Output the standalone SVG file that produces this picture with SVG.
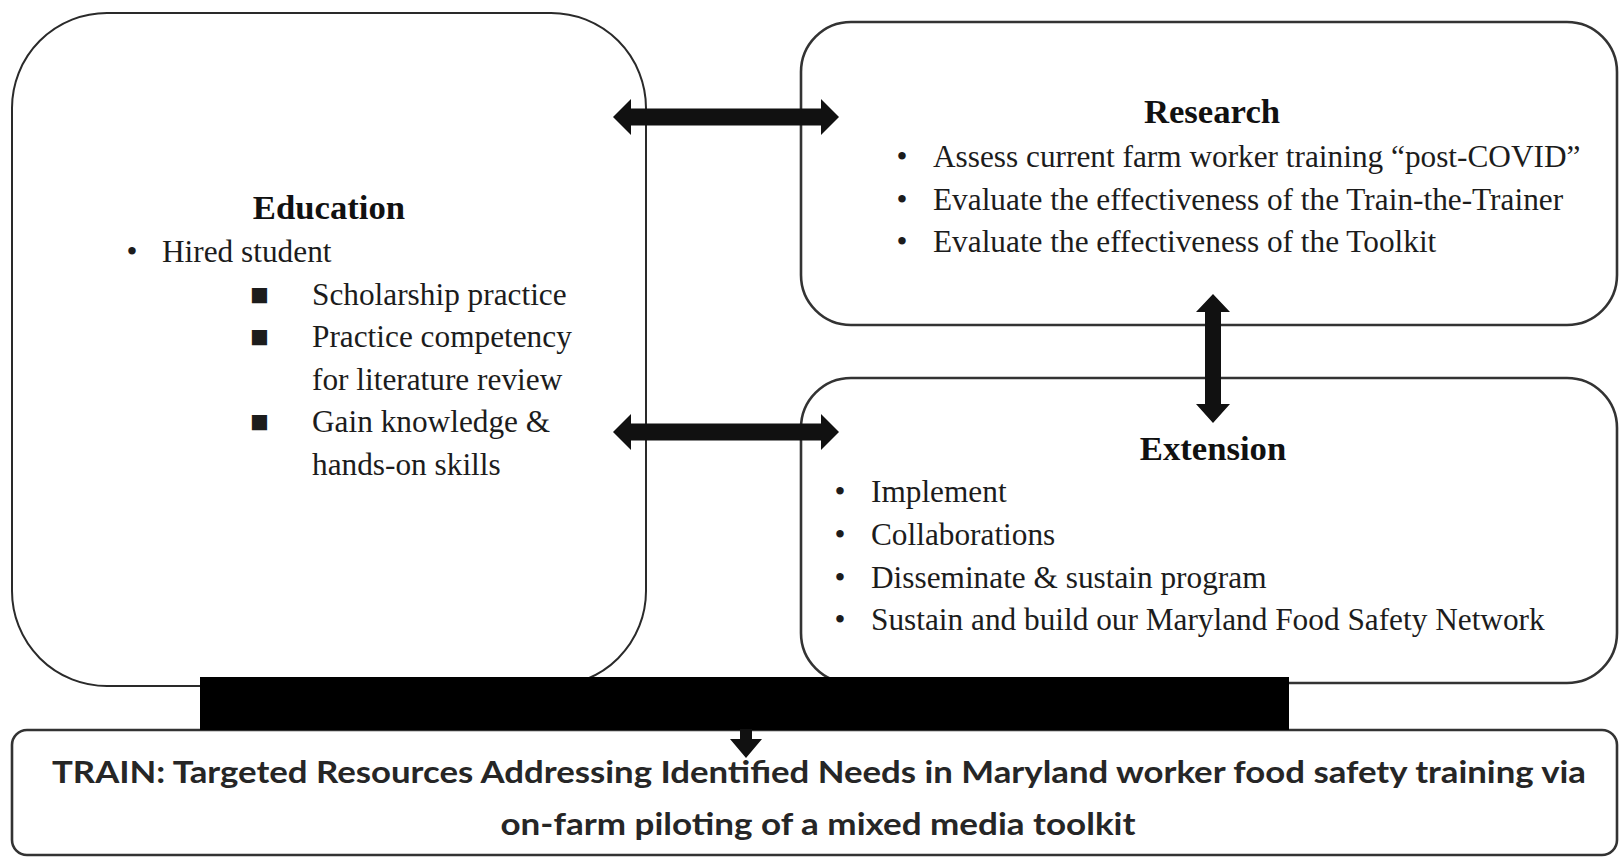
<svg xmlns="http://www.w3.org/2000/svg" width="1620" height="857" viewBox="0 0 1620 857">
<style>
.box{fill:#fff;stroke:#2a2a2a;stroke-width:2}
.box2{fill:#fff;stroke:#333;stroke-width:2.6}
.title{font-family:"Liberation Serif","Times New Roman",serif;font-weight:bold;font-size:34.7px;fill:#111;text-anchor:middle}
.body{font-family:"Liberation Serif","Times New Roman",serif;font-size:31.3px;fill:#1c1c1c}
.train{font-family:Lato,"Open Sans",sans-serif;font-weight:bold;font-size:30px;fill:#262626;text-anchor:middle}
.arrow{fill:#111}
</style>
<rect width="1620" height="857" fill="#fff"/>
<g id="education">
<rect class="box" x="12" y="13" width="634" height="673" rx="95" ry="95"/>
<text class="title" x="329" y="219">Education</text>
<text class="body" x="126.5" y="262">•</text>
<text class="body" x="162" y="262">Hired student</text>
<text class="body" x="250" y="305">■</text>
<text class="body" x="312" y="305">Scholarship practice</text>
<text class="body" x="250" y="347">■</text>
<text class="body" x="312" y="347">Practice competency</text>
<text class="body" x="312" y="390">for literature review</text>
<text class="body" x="250" y="432">■</text>
<text class="body" x="312" y="432">Gain knowledge &amp;</text>
<text class="body" x="312" y="475">hands-on skills</text>
</g>
<g id="research">
<rect class="box2" x="801" y="22" width="816" height="303" rx="50" ry="50"/>
<text class="title" x="1212" y="123">Research</text>
<text class="body" x="896.5" y="167">•</text>
<text class="body" x="933" y="167">Assess current farm worker training “post-COVID”</text>
<text class="body" x="896.5" y="209.5">•</text>
<text class="body" x="933" y="209.5">Evaluate the effectiveness of the Train-the-Trainer</text>
<text class="body" x="896.5" y="252">•</text>
<text class="body" x="933" y="252">Evaluate the effectiveness of the Toolkit</text>
</g>
<g id="extension">
<rect class="box2" x="801" y="378" width="816" height="305" rx="50" ry="50"/>
<text class="title" x="1213" y="460">Extension</text>
<text class="body" x="834.5" y="502">•</text>
<text class="body" x="871" y="502">Implement</text>
<text class="body" x="834.5" y="545">•</text>
<text class="body" x="871" y="545">Collaborations</text>
<text class="body" x="834.5" y="588">•</text>
<text class="body" x="871" y="588">Disseminate &amp; sustain program</text>
<text class="body" x="834.5" y="630">•</text>
<text class="body" x="871" y="630">Sustain and build our Maryland Food Safety Network</text>
</g>
<g id="train">
<rect class="box2" x="12" y="730" width="1605" height="125" rx="15" ry="15"/>
<text class="train" x="819" y="783" textLength="1534" lengthAdjust="spacingAndGlyphs">TRAIN: Targeted Resources Addressing Identified Needs in Maryland worker food safety training via</text>
<text class="train" x="818" y="835" textLength="635" lengthAdjust="spacingAndGlyphs">on-farm piloting of a mixed media toolkit</text>
</g>
<g id="connectors">
<polygon class="arrow" points="613,117 631,99 631,108.5 821,108.5 821,99 839,117 821,135 821,125.5 631,125.5 631,135"/>
<polygon class="arrow" points="613,432 631,414 631,423.5 821,423.5 821,414 839,432 821,450 821,440.5 631,440.5 631,450"/>
<polygon class="arrow" points="1213,294 1230,312 1221,312 1221,404 1230,404 1213,423 1196,404 1205,404 1205,312 1196,312"/>
<rect x="200" y="677" width="1089" height="53" fill="#000"/>
<polygon class="arrow" points="740,729 752,729 752,739 762,739 746,758 730,739 740,739"/>
</g>
</svg>
